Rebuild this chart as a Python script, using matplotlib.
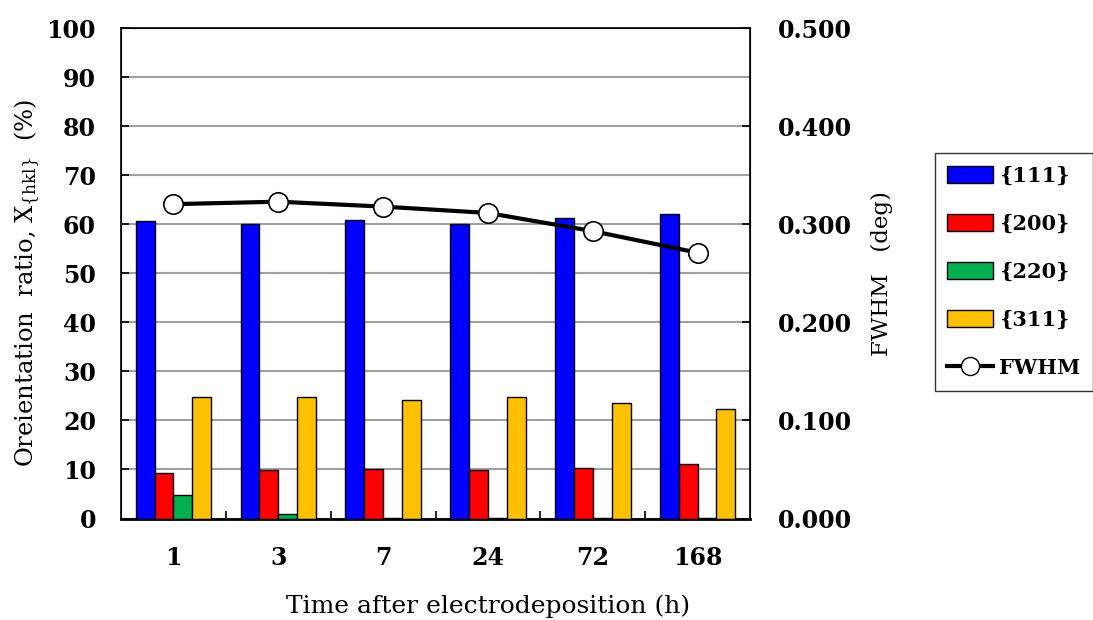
import matplotlib
matplotlib.use("Agg")
import matplotlib.pyplot as plt
import numpy as np
from matplotlib.patches import Patch
from matplotlib.lines import Line2D

plt.rcParams['font.family'] = ['DejaVu Serif']
plt.rcParams['mathtext.fontset'] = 'dejavuserif'

times = ['1', '3', '7', '24', '72', '168']
x111 = [60.7, 60.1, 60.8, 60.1, 61.2, 62.0]
x200 = [9.3, 9.8, 10.0, 9.8, 10.4, 11.2]
x220 = [4.8, 0.85, 0.2, 0.2, 0.2, 0.2]
x311 = [24.7, 24.8, 24.2, 24.7, 23.5, 22.3]
fwhm = [0.3205, 0.323, 0.318, 0.3115, 0.293, 0.271]

series = [('{111}', x111, '#0000ff'), ('{200}', x200, '#ff0000'),
          ('{220}', x220, '#00b050'), ('{311}', x311, '#ffc000')]

fig = plt.figure(figsize=(10.93, 6.2), dpi=100)
ax = fig.add_axes([0.1107, 0.1637, 0.5755, 0.791])

xs = np.arange(len(times))
w = 0.18
for i, (name, vals, col) in enumerate(series):
    ax.bar(xs + (i - 1.5) * w, vals, w, color=col, edgecolor='black', linewidth=1.0, zorder=3)

ax.set_xlim(-0.5, len(times) - 0.5)
ax.set_ylim(0, 100)
ax.set_yticks(np.arange(0, 101, 10))
ax.yaxis.grid(True, color='#a0a0a0', linewidth=1.5, zorder=0)
ax.set_xticks(xs)
ax.set_xticklabels(times)
ax.set_xticks(np.arange(0.5, len(times) - 1, 1), minor=True)
ax.tick_params(axis='x', which='major', length=0, pad=20)
ax.tick_params(axis='x', which='minor', direction='in', length=6, width=1.2)
ax.tick_params(axis='y', direction='in', length=6, width=1.2, pad=18)
for lab in ax.get_xticklabels() + ax.get_yticklabels():
    lab.set_fontsize(17)
    lab.set_fontweight('bold')
for s in ax.spines.values():
    s.set_linewidth(1.2)
ax.spines['bottom'].set_linewidth(2)

ax.set_ylabel('Oreientation  ratio, X$_{\\{\\mathrm{hkl}\\}}$  (%)', fontsize=17.5)
ax.yaxis.set_label_coords(-0.125, 0.48)
ax.set_xlabel('Time after electrodeposition (h)', fontsize=18)
ax.xaxis.set_label_coords(0.583, -0.155)

ax2 = ax.twinx()
ax2.set_ylim(0, 0.5)
ax2.set_yticks(np.arange(0, 0.51, 0.1))
ax2.set_yticklabels(['%.3f' % v for v in np.arange(0, 0.51, 0.1)])
ax2.tick_params(axis='y', direction='in', length=6, width=1.2, pad=20)
for lab in ax2.get_yticklabels():
    lab.set_fontsize(17)
    lab.set_fontweight('bold')
ax2.plot(xs, fwhm, color='black', linewidth=3, marker='o', markersize=14,
         markerfacecolor='white', markeredgecolor='black', markeredgewidth=1.2, zorder=5)
ax2.set_ylabel('FWHM   (deg)', fontsize=16.5, labelpad=14)

handles = [Patch(facecolor=c, edgecolor='black', label=n) for n, _, c in series]
handles.append(Line2D([0], [0], color='black', linewidth=3, marker='o', markersize=13,
                      markerfacecolor='white', markeredgecolor='black', label='FWHM'))
leg = fig.legend(handles=handles, loc='upper left', bbox_to_anchor=(0.855, 0.753),
                 fontsize=15, frameon=True, fancybox=False, edgecolor='black',
                 handlelength=2.2, handleheight=0.9, handletextpad=0.3,
                 labelspacing=1.35, borderpad=0.6, borderaxespad=0)
leg.get_frame().set_linewidth(1.0)
for t in leg.get_texts():
    t.set_fontweight('bold')

fig.savefig('out.png', dpi=100)
